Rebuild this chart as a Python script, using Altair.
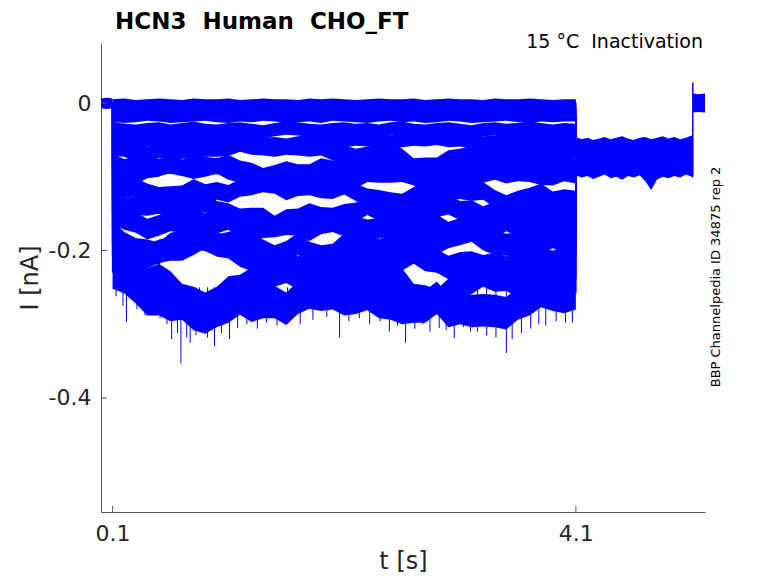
import altair as alt
import pandas as pd

# ---------------- data ----------------
# conditioning-pulse samples (s): 0.1 ... 4.1 every 0.1 s
T_PRE = [0.1, 0.2, 0.3, 0.4, 0.5, 0.6, 0.7, 0.8, 0.9, 1.0,
         1.1, 1.2, 1.3, 1.4, 1.5, 1.6, 1.7, 1.8, 1.9, 2.0,
         2.1, 2.2, 2.3, 2.4, 2.5, 2.6, 2.7, 2.8, 2.9, 3.0,
         3.1, 3.2, 3.3, 3.4, 3.5, 3.6, 3.7, 3.8, 3.9, 4.0,
         4.1]

# current of each sweep during the conditioning pulse (nA)
TR01 = [0.000, 0.001, -0.001, 0.000, 0.001, 0.000, -0.001, 0.001, 0.000, 0.000,
        0.001, -0.001, 0.000, 0.001, 0.000, 0.000, -0.001, 0.001, 0.000, 0.001,
        0.000, -0.001, 0.000, 0.001, 0.000, 0.000, 0.001, -0.001, 0.000, 0.001,
        0.000, 0.000, -0.001, 0.001, 0.000, 0.000, 0.001, 0.000, -0.001, 0.000,
        0.000]
TR02 = [-0.006, -0.008, -0.007, -0.006, -0.008, -0.007, -0.006, -0.007, -0.008, -0.006,
        -0.007, -0.008, -0.006, -0.007, -0.007, -0.008, -0.006, -0.007, -0.008, -0.006,
        -0.007, -0.006, -0.008, -0.007, -0.006, -0.008, -0.007, -0.007, -0.006, -0.008,
        -0.007, -0.006, -0.008, -0.007, -0.006, -0.007, -0.008, -0.006, -0.007, -0.007,
        -0.006]
TR03 = [-0.016, -0.018, -0.017, -0.015, -0.016, -0.018, -0.017, -0.016, -0.015, -0.017,
        -0.018, -0.016, -0.017, -0.015, -0.016, -0.018, -0.017, -0.016, -0.018, -0.015,
        -0.016, -0.017, -0.018, -0.016, -0.015, -0.017, -0.016, -0.018, -0.017, -0.015,
        -0.016, -0.018, -0.017, -0.016, -0.015, -0.017, -0.018, -0.016, -0.017, -0.016,
        -0.016]
TR04 = [-0.034, -0.037, -0.038, -0.036, -0.035, -0.038, -0.036, -0.034, -0.037, -0.038,
        -0.036, -0.035, -0.037, -0.039, -0.036, -0.034, -0.035, -0.037, -0.038, -0.036,
        -0.035, -0.037, -0.036, -0.038, -0.035, -0.034, -0.037, -0.038, -0.036, -0.035,
        -0.037, -0.039, -0.036, -0.035, -0.037, -0.036, -0.034, -0.036, -0.038, -0.036,
        -0.037]
TR05 = [-0.048, -0.051, -0.053, -0.050, -0.052, -0.054, -0.050, -0.049, -0.052, -0.053,
        -0.051, -0.050, -0.054, -0.056, -0.055, -0.057, -0.054, -0.052, -0.055, -0.053,
        -0.051, -0.049, -0.050, -0.052, -0.053, -0.051, -0.049, -0.050, -0.048, -0.051,
        -0.050, -0.052, -0.054, -0.053, -0.051, -0.052, -0.050, -0.049, -0.051, -0.053,
        -0.052]
TR06 = [-0.062, -0.063, -0.070, -0.069, -0.065, -0.068, -0.066, -0.062, -0.063, -0.063,
        -0.062, -0.056, -0.060, -0.061, -0.063, -0.060, -0.061, -0.063, -0.061, -0.068,
        -0.067, -0.072, -0.069, -0.068, -0.064, -0.072, -0.085, -0.084, -0.084, -0.074,
        -0.072, -0.068, -0.067, -0.070, -0.064, -0.067, -0.065, -0.067, -0.065, -0.070,
        -0.065]
TR07 = [-0.080, -0.087, -0.085, -0.081, -0.087, -0.085, -0.088, -0.080, -0.084, -0.086,
        -0.081, -0.089, -0.092, -0.099, -0.095, -0.090, -0.094, -0.094, -0.086, -0.089,
        -0.086, -0.087, -0.083, -0.085, -0.082, -0.092, -0.096, -0.099, -0.103, -0.092,
        -0.088, -0.082, -0.085, -0.086, -0.084, -0.086, -0.082, -0.087, -0.084, -0.086,
        -0.087]
TR08 = [-0.093, -0.097, -0.099, -0.091, -0.089, -0.083, -0.088, -0.092, -0.089, -0.085,
        -0.093, -0.097, -0.104, -0.102, -0.105, -0.104, -0.098, -0.102, -0.104, -0.100,
        -0.100, -0.105, -0.096, -0.097, -0.097, -0.096, -0.101, -0.106, -0.103, -0.104,
        -0.097, -0.099, -0.097, -0.093, -0.098, -0.095, -0.096, -0.100, -0.101, -0.095,
        -0.098]
TR09 = [-0.114, -0.117, -0.114, -0.121, -0.126, -0.125, -0.124, -0.115, -0.122, -0.119,
        -0.123, -0.115, -0.113, -0.109, -0.111, -0.120, -0.114, -0.113, -0.117, -0.118,
        -0.112, -0.121, -0.128, -0.130, -0.133, -0.135, -0.126, -0.118, -0.120, -0.120,
        -0.118, -0.121, -0.119, -0.130, -0.137, -0.131, -0.127, -0.121, -0.132, -0.129,
        -0.131]
TR10 = [-0.133, -0.142, -0.139, -0.140, -0.137, -0.143, -0.143, -0.140, -0.135, -0.146,
        -0.149, -0.156, -0.155, -0.155, -0.166, -0.157, -0.156, -0.149, -0.154, -0.155,
        -0.150, -0.148, -0.139, -0.147, -0.149, -0.153, -0.144, -0.143, -0.142, -0.138,
        -0.146, -0.145, -0.153, -0.147, -0.149, -0.144, -0.145, -0.144, -0.151, -0.147,
        -0.144]
TR11 = [-0.149, -0.158, -0.162, -0.171, -0.166, -0.160, -0.162, -0.161, -0.163, -0.163,
        -0.158, -0.169, -0.176, -0.169, -0.168, -0.165, -0.166, -0.173, -0.164, -0.161,
        -0.167, -0.168, -0.172, -0.170, -0.165, -0.169, -0.168, -0.168, -0.165, -0.175,
        -0.170, -0.169, -0.173, -0.170, -0.160, -0.167, -0.171, -0.167, -0.168, -0.167,
        -0.170]
TR12 = [-0.172, -0.190, -0.198, -0.200, -0.204, -0.191, -0.188, -0.183, -0.186, -0.193,
        -0.190, -0.184, -0.195, -0.200, -0.208, -0.202, -0.191, -0.203, -0.208, -0.206,
        -0.192, -0.187, -0.190, -0.200, -0.192, -0.190, -0.183, -0.187, -0.190, -0.182,
        -0.178, -0.173, -0.185, -0.191, -0.192, -0.191, -0.198, -0.189, -0.182, -0.189,
        -0.190]
TR13 = [-0.192, -0.211, -0.210, -0.208, -0.201, -0.198, -0.198, -0.190, -0.181, -0.192,
        -0.195, -0.206, -0.212, -0.209, -0.218, -0.217, -0.224, -0.213, -0.210, -0.213,
        -0.214, -0.209, -0.216, -0.219, -0.212, -0.211, -0.202, -0.212, -0.214, -0.223,
        -0.218, -0.217, -0.222, -0.219, -0.224, -0.214, -0.207, -0.213, -0.216, -0.213,
        -0.206]
TR14 = [-0.207, -0.222, -0.228, -0.241, -0.235, -0.245, -0.262, -0.266, -0.274, -0.266,
        -0.252, -0.250, -0.240, -0.239, -0.232, -0.227, -0.236, -0.245, -0.235, -0.233,
        -0.228, -0.231, -0.237, -0.234, -0.238, -0.241, -0.262, -0.264, -0.270, -0.255,
        -0.243, -0.242, -0.232, -0.239, -0.238, -0.246, -0.236, -0.231, -0.234, -0.233,
        -0.238]
TR15 = [-0.230, -0.236, -0.250, -0.266, -0.266, -0.274, -0.272, -0.286, -0.291, -0.282,
        -0.276, -0.265, -0.275, -0.270, -0.270, -0.279, -0.264, -0.257, -0.260, -0.258,
        -0.266, -0.264, -0.259, -0.270, -0.272, -0.278, -0.276, -0.276, -0.264, -0.282,
        -0.278, -0.282, -0.281, -0.282, -0.285, -0.272, -0.266, -0.255, -0.260, -0.263,
        -0.258]
TRACES = [TR01, TR02, TR03, TR04, TR05, TR06, TR07, TR08,
          TR09, TR10, TR11, TR12, TR13, TR14, TR15]
# noise half-amplitude of each sweep (nA)
NOISE = [0.005, 0.007, 0.009, 0.009, 0.009, 0.010, 0.011, 0.011,
         0.012, 0.013, 0.014, 0.015, 0.016, 0.017, 0.022]

# holding level before the conditioning pulse
T_HOLD = [0.0, 0.05, 0.1]
HOLD_LO = [-0.007, -0.008, -0.007]
HOLD_HI = [0.006, 0.007, 0.006]

# test pulse (all sweeps overlap)
T_TEST = [4.1, 4.15, 4.2, 4.25, 4.3, 4.35, 4.4, 4.45, 4.5, 4.55, 4.6,
          4.65, 4.7, 4.75, 4.8, 4.85, 4.9, 4.95, 5.0, 5.05, 5.1, 5.11]
TEST_LO = [-0.098, -0.101, -0.099, -0.103, -0.100, -0.097, -0.102, -0.100, -0.104, -0.099, -0.101,
           -0.098, -0.106, -0.118, -0.104, -0.100, -0.102, -0.099, -0.101, -0.097, -0.100, -0.102]
TEST_HI = [-0.046, -0.049, -0.047, -0.050, -0.048, -0.046, -0.049, -0.047, -0.045, -0.048, -0.050,
           -0.047, -0.046, -0.049, -0.047, -0.045, -0.048, -0.046, -0.049, -0.047, -0.044, -0.046]
TEST_LEVEL = -0.073

# return to holding
T_POST = [5.11, 5.16, 5.215]
POST_LO = [-0.013, -0.012, -0.013]
POST_HI = [0.013, 0.012, 0.013]
POST_SPIKE_T = [5.11]
POST_SPIKE_LO = [-0.100]
POST_SPIKE_HI = [0.028]

# downward noise spikes of the largest sweeps
SPIKE_T = [0.13, 0.19, 0.22, 0.31, 0.38, 0.44, 0.51, 0.57, 0.61, 0.66,
           0.69, 0.74, 0.77, 0.82, 0.85, 0.92, 0.98, 1.04, 1.11, 1.18,
           1.26, 1.35, 1.43, 1.52, 1.61, 1.72, 1.83, 1.95, 2.06, 2.14,
           2.23, 2.32, 2.41, 2.49, 2.56, 2.63, 2.71, 2.78, 2.84, 2.92,
           2.98, 3.05, 3.13, 3.19, 3.25, 3.33, 3.41, 3.50, 3.55, 3.63,
           3.71, 3.78, 3.84, 3.93, 4.01, 4.07]
SPIKE_TIP = [-0.262, -0.275, -0.297, -0.280, -0.288, -0.285, -0.292, -0.300, -0.320, -0.312,
             -0.353, -0.318, -0.325, -0.315, -0.310, -0.318, -0.330, -0.312, -0.320, -0.305,
             -0.300, -0.306, -0.298, -0.302, -0.296, -0.300, -0.294, -0.290, -0.318, -0.296,
             -0.292, -0.300, -0.296, -0.310, -0.302, -0.325, -0.306, -0.300, -0.310, -0.305,
             -0.308, -0.319, -0.304, -0.310, -0.310, -0.315, -0.318, -0.339, -0.320, -0.312,
             -0.306, -0.300, -0.302, -0.296, -0.298, -0.298]
SPIKE_BASE = -0.25

X_TICKS = [0.1, 4.1]
Y_TICKS = [0, -0.2, -0.4]
X_DOMAIN = [0.0, 5.215]
Y_DOMAIN = [-0.5546, 0.0814]

TITLE = "HCN3\u00a0\u00a0Human\u00a0\u00a0CHO_FT"
NOTE = "15 \u00b0C\u00a0\u00a0Inactivation"
SIDE = "BBP Channelpedia ID 34875 rep 2"

# ---------------- tables ----------------
rows = []
for k, (tr, w) in enumerate(zip(TRACES, NOISE)):
    for t, m in zip(T_PRE, tr):
        rows.append({"sweep": k, "t": t, "lo": m - w, "hi": m + w})
bands = pd.DataFrame(rows)

steps = pd.DataFrame(
    [{"t": T_PRE[0], "lo": tr[0], "hi": 0.0} for tr in TRACES]
    + [{"t": T_PRE[-1], "lo": min(tr[-1], TEST_LEVEL), "hi": max(tr[-1], TEST_LEVEL)} for tr in TRACES]
    + [{"t": t, "lo": a, "hi": b} for t, a, b in zip(POST_SPIKE_T, POST_SPIKE_LO, POST_SPIKE_HI)]
)
spikes = pd.DataFrame({"t": SPIKE_T, "lo": SPIKE_TIP, "hi": [SPIKE_BASE] * len(SPIKE_T)})
hold = pd.DataFrame({"t": T_HOLD, "lo": HOLD_LO, "hi": HOLD_HI})
test = pd.DataFrame({"t": T_TEST, "lo": TEST_LO, "hi": TEST_HI})
post = pd.DataFrame({"t": T_POST, "lo": POST_LO, "hi": POST_HI})

W, H = 604, 469
BLUE = "#0000ff"
TXT = "#262626"
AX = "#555555"
FONT = "DejaVu Sans"

xs = alt.Scale(domain=X_DOMAIN, nice=False, zero=False)
ys = alt.Scale(domain=Y_DOMAIN, nice=False, zero=False)

x_axis = alt.Axis(values=X_TICKS, title="t [s]", grid=False, ticks=False,
                  labelFontSize=22, titleFontSize=24, labelPadding=11, titlePadding=5,
                  domainColor=AX, labelColor=TXT, titleColor=TXT,
                  labelFont=FONT, titleFont=FONT, titleFontWeight="normal",
                  labelFlush=False, labelExpr="format(datum.value, '.1f')")
y_axis = alt.Axis(values=Y_TICKS, title="I [nA]", grid=False, ticks=False,
                  labelFontSize=22, titleFontSize=24, labelPadding=10, titlePadding=6,
                  domainColor=AX, labelColor=TXT, titleColor=TXT,
                  labelFont=FONT, titleFont=FONT, titleFontWeight="normal",
                  labelExpr="replace(format(datum.value, '.1~f'), '\u2212', '-')")

X = alt.X("t:Q", scale=xs, axis=x_axis)
Y = alt.Y("lo:Q", scale=ys, axis=y_axis)


def band(df, **kw):
    return alt.Chart(df).mark_area(color=BLUE, opacity=1).encode(x=X, y=Y, y2="hi:Q", **kw)


band_layer = band(bands, detail="sweep:N")
hold_layer = band(hold)
test_layer = band(test)
post_layer = band(post)
step_layer = alt.Chart(steps).mark_rule(color=BLUE, strokeWidth=1.5).encode(x=X, y=Y, y2="hi:Q")
spike_layer = alt.Chart(spikes).mark_rule(color=BLUE, strokeWidth=1).encode(x=X, y=Y, y2="hi:Q")

xt = alt.Chart(pd.DataFrame({"t": X_TICKS})).mark_rule(color=AX).encode(
    x=X, y=alt.value(H), y2=alt.value(H - 6))
yt = alt.Chart(pd.DataFrame({"lo": Y_TICKS})).mark_rule(color=AX).encode(
    y=Y, x=alt.value(0), x2=alt.value(6))

title_layer = alt.Chart(pd.DataFrame({"s": [TITLE]})).mark_text(
    align="left", baseline="alphabetic", font=FONT, fontSize=23, fontWeight="bold",
    color="#000000").encode(text="s:N", x=alt.value(14), y=alt.value(-14))
note_layer = alt.Chart(pd.DataFrame({"s": [NOTE]})).mark_text(
    align="right", baseline="alphabetic", font=FONT, fontSize=19, color="#000000").encode(
    text="s:N", x=alt.value(W - 2), y=alt.value(5))
side_layer = alt.Chart(pd.DataFrame({"s": [SIDE]})).mark_text(
    align="center", baseline="middle", font=FONT, fontSize=13, angle=270,
    color="#000000").encode(text="s:N", x=alt.value(615), y=alt.value(234))

chart = alt.layer(
    band_layer, hold_layer, test_layer, post_layer, step_layer, spike_layer, xt, yt,
    title_layer, note_layer, side_layer
).properties(
    width=W, height=H,
    autosize=alt.AutoSizeParams(type="none"),
    padding={"left": 93, "top": 35, "right": 40, "bottom": 62},
).configure_view(stroke=None)

chart.save("out.html", embed_options={"renderer": "svg", "actions": False})
